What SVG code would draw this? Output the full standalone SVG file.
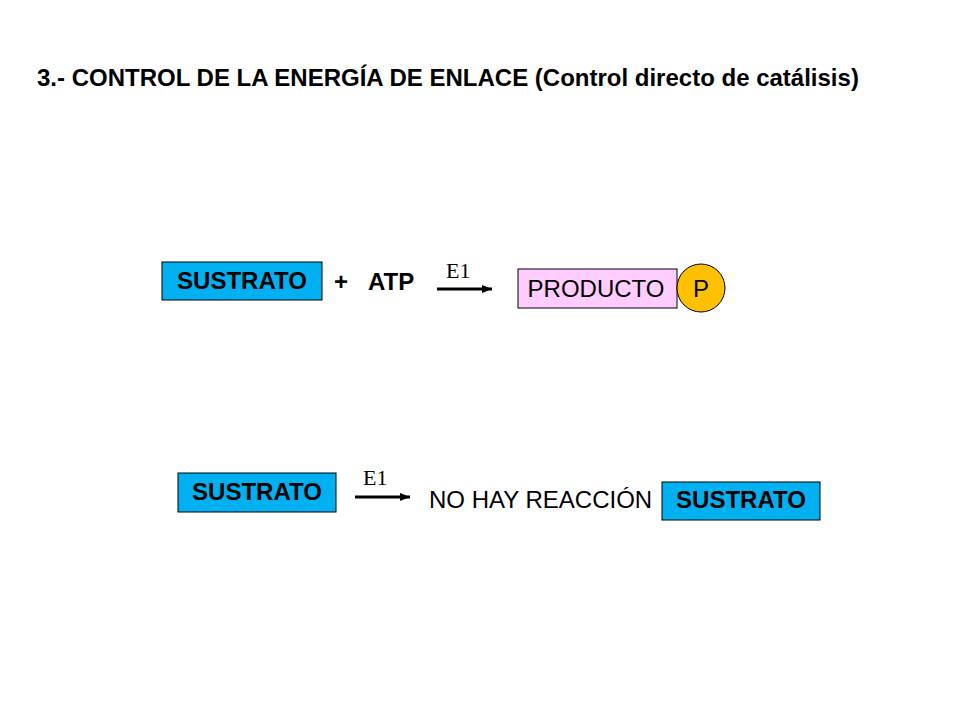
<svg xmlns="http://www.w3.org/2000/svg" width="960" height="720" viewBox="0 0 960 720">
<defs>
<style>
.t{font-family:"Liberation Sans",Arial,sans-serif;fill:#000;font-size:24px}
.b{font-weight:bold}
.box{fill:#00B0F0;stroke:#000;stroke-width:1}
.e{font-family:"Liberation Serif","Times New Roman",serif;font-size:22px;fill:#000}
.arr{stroke:#000;stroke-width:3;fill:none;marker-end:url(#ah)}
</style>
<marker id="ah" markerWidth="10" markerHeight="10" refX="10" refY="5" orient="auto" markerUnits="userSpaceOnUse">
<path d="M0,1 L10,5 L0,9 z" fill="#000"/>
</marker>
</defs>
<rect width="960" height="720" fill="#fff"/>
<text class="t b" x="37" y="86">3.- CONTROL DE LA ENERGÍA DE ENLACE (Control directo de catálisis)</text>
<g id="sustrato1">
<rect class="box" x="162" y="262" width="160" height="38"/>
<text class="t b" x="242" y="289" text-anchor="middle">SUSTRATO</text>
</g>
<g id="plus-atp">
<text class="t b" x="334" y="290">+</text>
<text class="t b" x="368" y="290">ATP</text>
</g>
<g id="producto">
<rect x="518" y="269" width="159" height="39" fill="#FFCCFF" stroke="#000" stroke-width="1"/>
<text class="t" x="596" y="297" text-anchor="middle">PRODUCTO</text>
</g>
<g id="fosfato">
<circle cx="701" cy="288" r="24" fill="#FFC000" stroke="#000" stroke-width="1"/>
<text class="t" x="701" y="297" text-anchor="middle">P</text>
</g>
<g id="sustrato2">
<rect class="box" x="178" y="473" width="158" height="39"/>
<text class="t b" x="257" y="500" text-anchor="middle">SUSTRATO</text>
</g>
<g id="no-reaccion">
<text class="t" x="429" y="508">NO HAY REACCIÓN</text>
</g>
<g id="sustrato3">
<rect class="box" x="662" y="482" width="158" height="38"/>
<text class="t b" x="741" y="508" text-anchor="middle">SUSTRATO</text>
</g>
<g id="connectors">
<line class="arr" x1="437" y1="289" x2="492" y2="289"/>
<text class="e" x="446" y="278">E1</text>
<line class="arr" x1="355" y1="497" x2="410" y2="497"/>
<text class="e" x="363" y="485">E1</text>
</g>
</svg>
